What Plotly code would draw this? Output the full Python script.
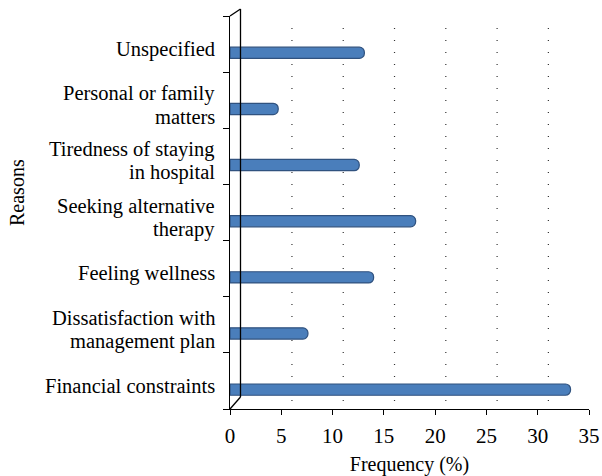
import plotly.graph_objects as go

categories = [
    "Financial constraints",
    "Dissatisfaction with<br>management plan",
    "Feeling wellness",
    "Seeking alternative<br>therapy",
    "Tiredness of staying <br>in hospital",
    "Personal or family<br>matters",
    "Unspecified",
]
values = [33.2, 7.6, 14.0, 18.1, 12.6, 4.7, 13.1]
x_ticks = [0, 5, 10, 15, 20, 25, 30, 35]

FONT = "Liberation Serif"
W, H = 602, 476
L, R, T, B = 230, 13, 16, 67

fig = go.Figure()
fig.add_trace(go.Bar(
    y=categories, x=values, orientation="h",
    width=0.2, offset=-0.255,
    marker=dict(color="#4a7ebb", line=dict(color="#30527f", width=1.2), cornerradius=5),
    showlegend=False, hoverinfo="skip",
))

pw = W - L - R
ph = H - T - B
def px(x):
    return (x - L) / pw
def py(y):
    return (H - B - y) / ph

shapes = []
# back wall and 3D edges
shapes.append(dict(type="line", xref="paper", yref="paper",
                   x0=px(240.5), x1=px(240.5), y0=py(397), y1=py(9),
                   line=dict(color="black", width=1.3)))
shapes.append(dict(type="line", xref="paper", yref="paper",
                   x0=px(230), x1=px(240.5), y0=py(16), y1=py(9),
                   line=dict(color="black", width=1.3)))
shapes.append(dict(type="line", xref="paper", yref="paper",
                   x0=px(230), x1=px(240.5), y0=py(409), y1=py(397),
                   line=dict(color="black", width=1.3)))
# dotted gridlines on back plane
for t in x_ticks[1:-1]:
    shapes.append(dict(type="line", xref="x", yref="paper",
                       x0=t + 1.04, x1=t + 1.04, y0=py(401), y1=py(18),
                       line=dict(color="#333333", width=1.2, dash="1px,11px"),
                       layer="below"))

# category labels (tight line spacing like the reference)
annotations = []
LINE_GAP = 23
for cat in categories:
    lines = cat.split("<br>")
    n = len(lines)
    for i, ln in enumerate(lines):
        shift = -((i - (n - 1) / 2) * LINE_GAP) - 5
        annotations.append(dict(
            text=ln.strip(), xref="paper", yref="y", x=px(217), y=cat,
            xanchor="right", yanchor="middle", yshift=shift, showarrow=False,
            font=dict(family=FONT, size=20.5, color="black")))

annotations.append(dict(text="Reasons", xref="paper", yref="paper",
                        x=px(17), y=py(193), textangle=-90, showarrow=False,
                        font=dict(family=FONT, size=20), xanchor="center", yanchor="middle"))

fig.update_layout(
    width=W, height=H,
    margin=dict(l=L, r=R, t=T, b=B),
    paper_bgcolor="white", plot_bgcolor="white",
    font=dict(family=FONT, size=20, color="black"),
    shapes=shapes,
    annotations=annotations,
    xaxis=dict(
        range=[0, 35], tickvals=x_ticks, showgrid=False, zeroline=False,
        showline=True, linecolor="black", linewidth=1.3,
        ticks="outside", ticklen=5, tickcolor="black", tickwidth=1.3,
        tickfont=dict(family=FONT, size=21), automargin=False,
        ticklabelstandoff=3,
        title=dict(text="Frequency (%)", font=dict(family=FONT, size=20), standoff=12),
    ),
    yaxis=dict(
        type="category", categoryorder="array", categoryarray=categories,
        range=[-0.5, 6.5], showgrid=False, zeroline=False,
        showline=True, linecolor="black", linewidth=1.3,
        ticks="outside", ticklen=6, tickcolor="black", tickwidth=1.3,
        tickson="boundaries", showticklabels=False, automargin=False,
    ),
)

fig.write_html("out.html", config={"displayModeBar": False},
               post_script="document.body.style.margin='0px';")
